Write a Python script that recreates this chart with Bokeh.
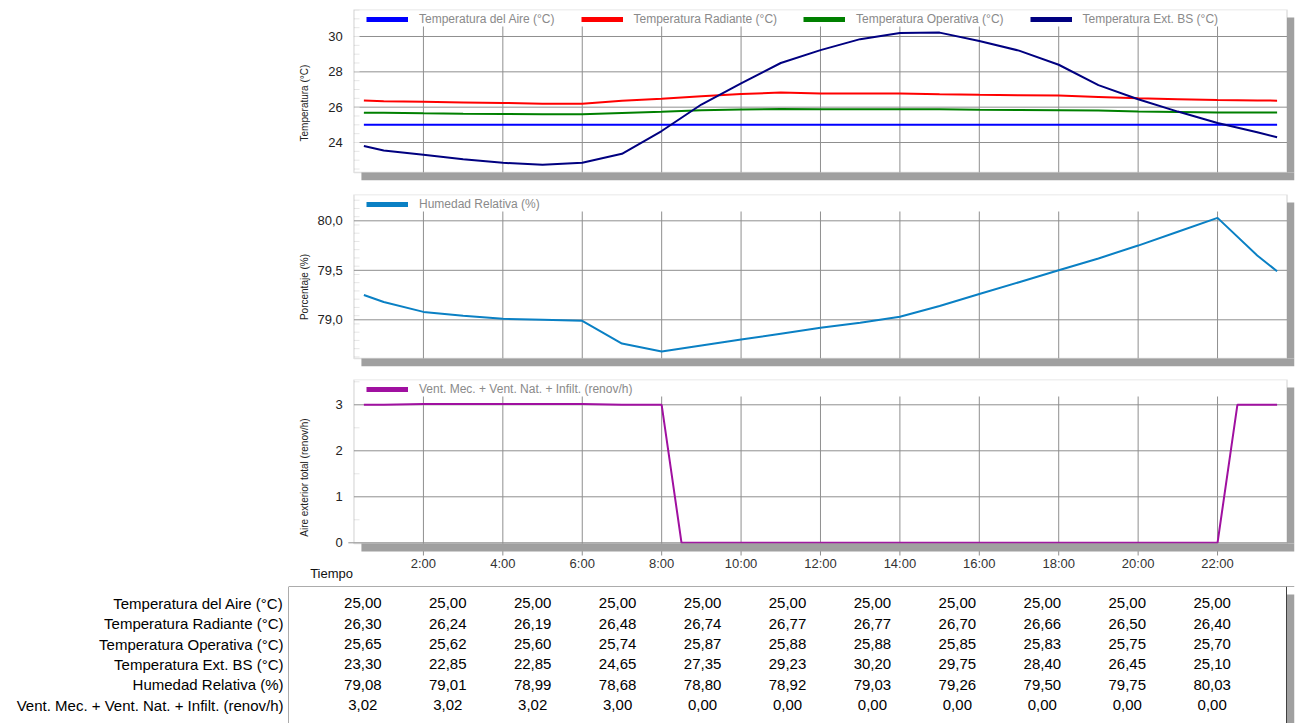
import numpy as np
from math import pi
from bokeh.plotting import figure
from bokeh.layouts import column
from bokeh.models import (Range1d, FixedTicker, CustomJSTickFormatter, Legend, LegendItem,
                          BoxAnnotation, Span, ColumnDataSource)
from bokeh.core.properties import value
from bokeh.embed import file_html
from bokeh.resources import INLINE

FONT = "Liberation Sans"

# --- data ---
horas = [0.5, 1, 2, 3, 4, 5, 6, 7, 8, 9, 10, 11, 12, 13, 14, 15, 16, 17, 18, 19, 20, 21, 22, 23, 23.5]
t_aire = [25.00, 25.00, 25.00, 25.00, 25.00, 25.00, 25.00, 25.00, 25.00, 25.00, 25.00, 25.00, 25.00,
          25.00, 25.00, 25.00, 25.00, 25.00, 25.00, 25.00, 25.00, 25.00, 25.00, 25.00, 25.00]
t_rad = [26.38, 26.33, 26.30, 26.27, 26.24, 26.20, 26.19, 26.36, 26.48, 26.62, 26.74, 26.83, 26.77,
         26.77, 26.77, 26.73, 26.70, 26.68, 26.66, 26.58, 26.50, 26.45, 26.40, 26.38, 26.37]
t_oper = [25.69, 25.68, 25.65, 25.63, 25.62, 25.60, 25.60, 25.67, 25.74, 25.82, 25.87, 25.89, 25.88,
          25.88, 25.88, 25.88, 25.85, 25.84, 25.83, 25.81, 25.75, 25.73, 25.70, 25.70, 25.70]
t_ext = [23.80, 23.55, 23.30, 23.05, 22.85, 22.74, 22.85, 23.36, 24.65, 26.15, 27.35, 28.50, 29.23,
         29.85, 30.20, 30.22, 29.75, 29.20, 28.40, 27.25, 26.45, 25.75, 25.10, 24.58, 24.30]
hum_rel = [79.25, 79.18, 79.08, 79.04, 79.01, 79.00, 78.99, 78.76, 78.68, 78.74, 78.80, 78.86, 78.92,
           78.97, 79.03, 79.14, 79.26, 79.38, 79.50, 79.62, 79.75, 79.89, 80.03, 79.65, 79.49]
horas_vent = [0.5, 1, 2, 6, 7, 8, 8.5, 22, 22.5, 23.5]
vent = [3.00, 3.00, 3.02, 3.02, 3.00, 3.00, 0.00, 0.00, 3.00, 3.00]

horas_eje = [2, 4, 6, 8, 10, 12, 14, 16, 18, 20, 22]
etiquetas_eje = ["2:00", "4:00", "6:00", "8:00", "10:00", "12:00", "14:00", "16:00", "18:00", "20:00", "22:00"]

horas_tabla = [2, 4, 6, 8, 10, 12, 14, 16, 18, 20, 22]
filas = ["Temperatura del Aire (°C)", "Temperatura Radiante (°C)", "Temperatura Operativa (°C)",
         "Temperatura Ext. BS (°C)", "Humedad Relativa (%)", "Vent. Mec. + Vent. Nat. + Infilt. (renov/h)"]
tab_aire = [25.00, 25.00, 25.00, 25.00, 25.00, 25.00, 25.00, 25.00, 25.00, 25.00, 25.00]
tab_rad = [26.30, 26.24, 26.19, 26.48, 26.74, 26.77, 26.77, 26.70, 26.66, 26.50, 26.40]
tab_oper = [25.65, 25.62, 25.60, 25.74, 25.87, 25.88, 25.88, 25.85, 25.83, 25.75, 25.70]
tab_ext = [23.30, 22.85, 22.85, 24.65, 27.35, 29.23, 30.20, 29.75, 28.40, 26.45, 25.10]
tab_hr = [79.08, 79.01, 78.99, 78.68, 78.80, 78.92, 79.03, 79.26, 79.50, 79.75, 80.03]
tab_vent = [3.02, 3.02, 3.02, 3.00, 0.00, 0.00, 0.00, 0.00, 0.00, 0.00, 0.00]

# --- layout constants ---
W = 1296
LEFT = 288             # left edge of the white boxes
PAD = 70               # chart frames start this many px further left, to hold their own labels
BOX_W = 998            # visible white box width
SHADOW = 8             # drop shadow offset in px
RIGHT = W - LEFT - BOX_W - SHADOW
X0, X1 = 0.25, 23.75
UX = (X1 - X0) / BOX_W  # hours per px
DX = SHADOW * UX
GRID = "#8f8f8f"
SHADOW_COLOR = "#a0a0a0"
BORDER = "#989898"


def panel(height, top, box_h, y0, y1, majors, labels, minors, titulo, frac, items, extra=SHADOW):
    # the bokeh frame is the white box plus PAD px left, `extra` px below and SHADOW px right
    upp = (y1 - y0) / box_h
    dy = SHADOW * upp
    bottom = height - top - box_h - extra
    p = figure(width=W, height=height, x_range=Range1d(X0 - PAD * UX, X1 + DX),
               y_range=Range1d(y0 - extra * upp, y1), x_axis_type=None, y_axis_type=None,
               output_backend="svg", toolbar_location=None, min_border_left=LEFT - PAD,
               min_border_right=RIGHT, min_border_top=top, min_border_bottom=bottom)
    p.outline_line_color = None
    p.background_fill_color = "white"
    p.border_fill_color = "white"

    # horizontal grid lines and faint inner minor ticks
    m = len(majors)
    p.segment(x0=[X0] * m, y0=majors, x1=[X1] * m, y1=majors, line_color=GRID, line_width=1)
    k = len(minors)
    p.segment(x0=[X0] * k, y0=minors, x1=[X0 + 6 * UX] * k, y1=minors, line_color="#e6e6e6", line_width=1)

    # vertical grid lines stop under the legend strip
    g_top = y1 - 17 * upp
    n = len(horas_eje)
    p.segment(x0=horas_eje, y0=[y0] * n, x1=horas_eje, y1=[g_top] * n, line_color=GRID, line_width=1)

    # y tick labels and rotated title
    p.text(x=[X0 - 12 * UX] * m, y=majors, text=labels, text_align="right", text_baseline="middle",
           text_font=value(FONT), text_font_size="13px", text_color="#222222")
    p.text(x=[X0 - 53 * UX], y=[y0 + frac * (y1 - y0)], text=[titulo], angle=pi / 2,
           text_align="center", text_baseline="middle", text_font=value(FONT),
           text_font_size="10px", text_color="#222222")

    # drop shadow (bottom and right strips), then the box border
    p.add_layout(BoxAnnotation(left=X0 + DX, right=X1 + DX, top=y0, bottom=y0 - dy,
                               fill_color=SHADOW_COLOR, fill_alpha=1, line_color=None))
    p.add_layout(BoxAnnotation(left=X1, right=X1 + DX, top=y1 - dy, bottom=y0,
                               fill_color=SHADOW_COLOR, fill_alpha=1, line_color=None))
    p.add_layout(BoxAnnotation(left=X0, right=X1, top=y1, bottom=y0, fill_alpha=0,
                               line_color=BORDER, line_width=1.5))

    # legend with thick swatches (single off-range point, only used for the legend)
    leg_items = []
    for lab, col in items:
        r = p.line(x=[X0 - 500], y=[y0 - 50], line_color=col, line_width=5)
        leg_items.append(LegendItem(label=lab, renderers=[r]))
    leg = Legend(items=leg_items, orientation="horizontal", location=(PAD + 8, box_h + extra - 17),
                 label_text_font=FONT, label_text_font_size="12px", label_text_color="#8a8a8a",
                 glyph_width=42, glyph_height=14, label_height=14, label_standoff=11, spacing=26,
                 padding=0, margin=0, border_line_color=None, background_fill_alpha=0)
    p.add_layout(leg)
    return p


p1 = panel(193, 9, 163, 22.302, 31.528, [24, 26, 28, 30], ["24", "26", "28", "30"],
           list(np.arange(22.5, 31.6, 0.5)), "Temperatura (°C)", 0.426,
           [("Temperatura del Aire (°C)", "#0000ff"), ("Temperatura Radiante (°C)", "#ff0000"),
            ("Temperatura Operativa (°C)", "#008000"), ("Temperatura Ext. BS (°C)", "#000080")])
p1.line(horas, t_aire, line_color="#0000ff", line_width=2)
p1.line(horas, t_rad, line_color="#ff0000", line_width=2)
p1.line(horas, t_oper, line_color="#008000", line_width=2)
p1.line(horas, t_ext, line_color="#000080", line_width=2)

p2 = panel(185, 1, 164, 78.609, 80.266, [79.0, 79.5, 80.0], ["79,0", "79,5", "80,0"],
           list(np.arange(78.625, 80.27, 1 / 12)), "Porcentaje (%)", 0.436,
           [("Humedad Relativa (%)", "#0a80c4")])
p2.line(horas, hum_rel, line_color="#0a80c4", line_width=2)

# bottom panel: frame reaches the figure bottom so the time labels live inside it
V0, V1 = -0.015, 3.55
VU = (V1 - V0) / 164
p3 = panel(207, 1, 164, V0, V1, [0, 1, 2, 3], ["0", "1", "2", "3"], [0.5, 1.5, 2.5, 3.5],
           "Aire exterior total (renov/h)", 0.402,
           [("Vent. Mec. + Vent. Nat. + Infilt. (renov/h)", "#a010a0")], extra=42)
p3.line(horas_vent, vent, line_color="#a010a0", line_width=2)
n = len(horas_eje)
p3.segment(x0=horas_eje, y0=[V0] * n, x1=horas_eje, y1=[V0 - 12 * VU] * n, line_color=GRID, line_width=1)
p3.segment(x0=[X0 - 6 * UX], y0=[0], x1=[X0], y1=[0], line_color=GRID, line_width=1)
p3.text(x=horas_eje, y=[V0 - 20 * VU] * n, text=etiquetas_eje, text_align="center",
        text_baseline="middle", text_font=value(FONT), text_font_size="13px", text_color="#333333")
p3.text(x=[X0 - 1 * UX], y=[V0 - 30 * VU], text=["Tiempo"], text_align="right",
        text_baseline="middle", text_font=value(FONT), text_font_size="13px", text_color="#111111")

# --- table ---
T_H = 138
TY0, TY1 = 5.897, -0.819
t = figure(width=W, height=T_H, x_range=Range1d(X0, X1 + DX), y_range=Range1d(TY0, TY1),
           x_axis_type=None, output_backend="svg", toolbar_location=None,
           min_border_left=LEFT, min_border_right=RIGHT, min_border_top=1, min_border_bottom=0)
t.outline_line_color = None
t.ygrid.visible = False
t.yaxis.ticker = FixedTicker(ticks=[0, 1, 2, 3, 4, 5])
t.yaxis.formatter = CustomJSTickFormatter(args=dict(labels=filas), code="return labels[tick]")
t.yaxis.axis_line_color = None
t.yaxis.major_tick_line_color = None
t.yaxis.minor_tick_line_color = None
t.yaxis.major_tick_out = 0
t.yaxis.major_label_standoff = 5
t.yaxis.major_label_text_font = FONT
t.yaxis.major_label_text_font_size = "15px"
t.yaxis.major_label_text_color = "#000000"

xs, ys, txt = [], [], []
for fila, vals in enumerate([tab_aire, tab_rad, tab_oper, tab_ext, tab_hr, tab_vent]):
    for h, v in zip(horas_tabla, vals):
        xs.append(h)
        ys.append(fila)
        txt.append(f"{v:.2f}".replace(".", ","))
t.text(x="x", y="y", text="txt", source=ColumnDataSource(dict(x=xs, y=ys, txt=txt)),
       text_align="center", text_baseline="middle", text_font=value(FONT),
       text_font_size="15px", text_color="#000000")

tdy = SHADOW * (TY0 - TY1) / (T_H - 1)
t.add_layout(BoxAnnotation(left=X1, right=X1 + DX, top=TY1 + tdy, bottom=TY0,
                           fill_color=SHADOW_COLOR, fill_alpha=1, line_color=None))
t.add_layout(Span(location=X0, dimension="height", line_color="#5a5a5a", line_width=1))
t.add_layout(Span(location=X1, dimension="height", line_color="#404040", line_width=1))
t.add_layout(Span(location=TY1, dimension="width", line_color="#5a5a5a", line_width=1))

layout = column(p1, p2, p3, t, spacing=0)
open("out.html", "w").write(file_html(layout, INLINE))
